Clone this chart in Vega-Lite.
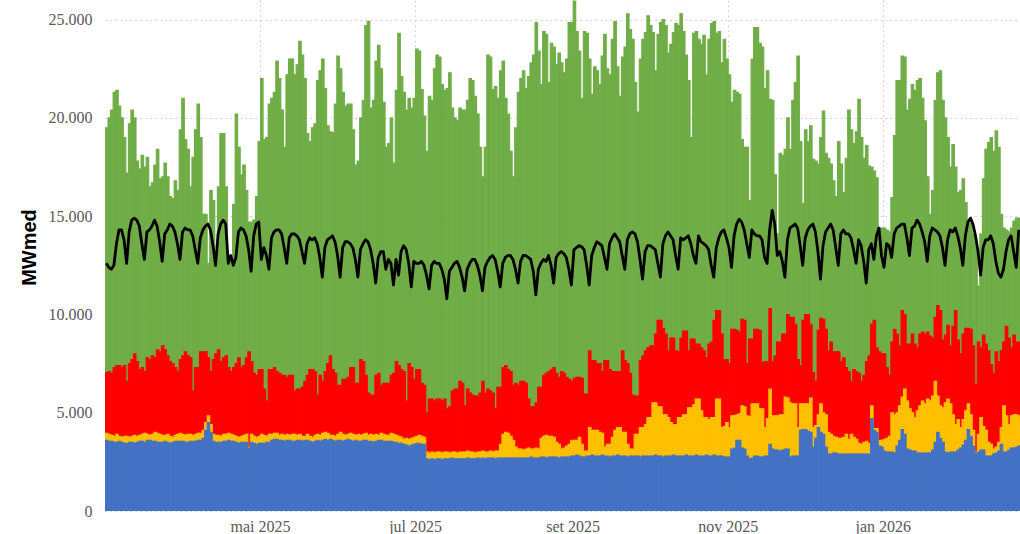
{
"$schema": "https://vega.github.io/schema/vega-lite/v6.json",
"description": "Geração diária empilhada (cada campo é o topo da faixa colorida) e carga (linha preta), MWmed.",
"width": 915, "height": 511,
"autosize": {"type": "none"},
"padding": {"left": 105, "top": 0, "right": 0, "bottom": 23},
"background": "#ffffff",
"config": {
  "view": {"stroke": null},
  "bar": {"binSpacing": 0, "strokeWidth": 1.1},
  "axis": {"domain": false, "ticks": false, "grid": true, "gridColor": "#c8c8c8", "gridDash": [1.5, 3.5], "gridWidth": 1, "labelFont": "Liberation Serif", "labelFontSize": 16, "labelColor": "#595959"}
},
"data": {"values": [
{"d":"2025-03-01","azul":3600,"amarelo":3950,"vermelho":7050,"verde":19500,"carga":12600},
{"d":"2025-03-02","azul":3550,"amarelo":3900,"vermelho":7100,"verde":20000,"carga":12400},
{"d":"2025-03-03","azul":3550,"amarelo":3850,"vermelho":7000,"verde":20400,"carga":12300},
{"d":"2025-03-04","azul":3500,"amarelo":3800,"vermelho":7300,"verde":21300,"carga":12500},
{"d":"2025-03-05","azul":3500,"amarelo":3900,"vermelho":7400,"verde":21400,"carga":13600},
{"d":"2025-03-06","azul":3550,"amarelo":3800,"vermelho":7400,"verde":20600,"carga":14300},
{"d":"2025-03-07","azul":3500,"amarelo":3750,"vermelho":7300,"verde":20000,"carga":14300},
{"d":"2025-03-08","azul":3450,"amarelo":3800,"vermelho":7400,"verde":19000,"carga":13800},
{"d":"2025-03-09","azul":3450,"amarelo":3800,"vermelho":6600,"verde":17200,"carga":12600},
{"d":"2025-03-10","azul":3500,"amarelo":3750,"vermelho":7500,"verde":19700,"carga":14200},
{"d":"2025-03-11","azul":3500,"amarelo":3800,"vermelho":7700,"verde":20400,"carga":14800},
{"d":"2025-03-12","azul":3450,"amarelo":3850,"vermelho":8000,"verde":20000,"carga":14900},
{"d":"2025-03-13","azul":3500,"amarelo":3800,"vermelho":7600,"verde":17800,"carga":14800},
{"d":"2025-03-14","azul":3550,"amarelo":3850,"vermelho":7200,"verde":17400,"carga":14500},
{"d":"2025-03-15","azul":3550,"amarelo":3900,"vermelho":7300,"verde":18100,"carga":13600},
{"d":"2025-03-16","azul":3500,"amarelo":3950,"vermelho":7100,"verde":17500,"carga":12800},
{"d":"2025-03-17","azul":3600,"amarelo":3900,"vermelho":7800,"verde":18000,"carga":14200},
{"d":"2025-03-18","azul":3600,"amarelo":3850,"vermelho":7700,"verde":16500,"carga":14300},
{"d":"2025-03-19","azul":3550,"amarelo":3900,"vermelho":7900,"verde":16700,"carga":14500},
{"d":"2025-03-20","azul":3550,"amarelo":4000,"vermelho":7800,"verde":17600,"carga":14800},
{"d":"2025-03-21","azul":3500,"amarelo":3950,"vermelho":8200,"verde":18400,"carga":14500},
{"d":"2025-03-22","azul":3500,"amarelo":3900,"vermelho":8100,"verde":16900,"carga":13700},
{"d":"2025-03-23","azul":3500,"amarelo":3850,"vermelho":8400,"verde":17000,"carga":12700},
{"d":"2025-03-24","azul":3550,"amarelo":3850,"vermelho":8200,"verde":17700,"carga":14100},
{"d":"2025-03-25","azul":3500,"amarelo":3900,"vermelho":7900,"verde":17000,"carga":14300},
{"d":"2025-03-26","azul":3450,"amarelo":3800,"vermelho":7600,"verde":16000,"carga":14600},
{"d":"2025-03-27","azul":3500,"amarelo":3750,"vermelho":7500,"verde":15900,"carga":14500},
{"d":"2025-03-28","azul":3550,"amarelo":3850,"vermelho":7300,"verde":16800,"carga":14200},
{"d":"2025-03-29","azul":3550,"amarelo":3900,"vermelho":7100,"verde":16300,"carga":13600},
{"d":"2025-03-30","azul":3550,"amarelo":3950,"vermelho":7700,"verde":19400,"carga":12800},
{"d":"2025-03-31","azul":3550,"amarelo":3900,"vermelho":7900,"verde":21000,"carga":14200},
{"d":"2025-04-01","azul":3500,"amarelo":3850,"vermelho":8100,"verde":18900,"carga":14400},
{"d":"2025-04-02","azul":3500,"amarelo":3900,"vermelho":7900,"verde":18400,"carga":14300},
{"d":"2025-04-03","azul":3550,"amarelo":3900,"vermelho":7800,"verde":16500,"carga":14300},
{"d":"2025-04-04","azul":3550,"amarelo":3850,"vermelho":6100,"verde":18000,"carga":14000},
{"d":"2025-04-05","azul":3550,"amarelo":3900,"vermelho":7300,"verde":19400,"carga":13300},
{"d":"2025-04-06","azul":3600,"amarelo":3950,"vermelho":7300,"verde":20700,"carga":12600},
{"d":"2025-04-07","azul":3600,"amarelo":3950,"vermelho":8100,"verde":19000,"carga":13900},
{"d":"2025-04-08","azul":3700,"amarelo":4100,"vermelho":8100,"verde":15100,"carga":14300},
{"d":"2025-04-09","azul":4100,"amarelo":4500,"vermelho":8100,"verde":15100,"carga":14500},
{"d":"2025-04-10","azul":4500,"amarelo":4850,"vermelho":7800,"verde":12600,"carga":14600},
{"d":"2025-04-11","azul":4000,"amarelo":4400,"vermelho":7100,"verde":16300,"carga":14300},
{"d":"2025-04-12","azul":3550,"amarelo":3900,"vermelho":7700,"verde":15800,"carga":13500},
{"d":"2025-04-13","azul":3500,"amarelo":3850,"vermelho":8000,"verde":12600,"carga":12500},
{"d":"2025-04-14","azul":3500,"amarelo":3850,"vermelho":8200,"verde":16500,"carga":14100},
{"d":"2025-04-15","azul":3500,"amarelo":3800,"vermelho":7600,"verde":19200,"carga":14600},
{"d":"2025-04-16","azul":3550,"amarelo":3900,"vermelho":7800,"verde":19200,"carga":14800},
{"d":"2025-04-17","azul":3550,"amarelo":3900,"vermelho":7900,"verde":16500,"carga":14600},
{"d":"2025-04-18","azul":3600,"amarelo":3950,"vermelho":7300,"verde":13000,"carga":12600},
{"d":"2025-04-19","azul":3550,"amarelo":3900,"vermelho":7100,"verde":13000,"carga":13000},
{"d":"2025-04-20","azul":3550,"amarelo":3850,"vermelho":7300,"verde":15600,"carga":12500},
{"d":"2025-04-21","azul":3500,"amarelo":3800,"vermelho":7500,"verde":20200,"carga":12900},
{"d":"2025-04-22","azul":3450,"amarelo":3750,"vermelho":7800,"verde":18500,"carga":14200},
{"d":"2025-04-23","azul":3500,"amarelo":3800,"vermelho":7300,"verde":17100,"carga":14400},
{"d":"2025-04-24","azul":3500,"amarelo":3850,"vermelho":7400,"verde":17600,"carga":14300},
{"d":"2025-04-25","azul":3500,"amarelo":3900,"vermelho":7800,"verde":16300,"carga":14000},
{"d":"2025-04-26","azul":3200,"amarelo":3250,"vermelho":8100,"verde":14700,"carga":13300},
{"d":"2025-04-27","azul":3500,"amarelo":3900,"vermelho":7600,"verde":14700,"carga":12200},
{"d":"2025-04-28","azul":3450,"amarelo":3800,"vermelho":7000,"verde":14800,"carga":14000},
{"d":"2025-04-29","azul":3400,"amarelo":3750,"vermelho":6900,"verde":16000,"carga":14600},
{"d":"2025-04-30","azul":3450,"amarelo":3800,"vermelho":7200,"verde":18800,"carga":14700},
{"d":"2025-05-01","azul":3450,"amarelo":3900,"vermelho":7200,"verde":22000,"carga":12800},
{"d":"2025-05-02","azul":3450,"amarelo":3850,"vermelho":6200,"verde":18900,"carga":13400},
{"d":"2025-05-03","azul":3500,"amarelo":3800,"vermelho":5600,"verde":19000,"carga":13000},
{"d":"2025-05-04","azul":3500,"amarelo":3900,"vermelho":7200,"verde":20700,"carga":12300},
{"d":"2025-05-05","azul":3600,"amarelo":3900,"vermelho":7200,"verde":21000,"carga":13900},
{"d":"2025-05-06","azul":3650,"amarelo":3950,"vermelho":7300,"verde":21300,"carga":14200},
{"d":"2025-05-07","azul":3650,"amarelo":3950,"vermelho":7100,"verde":22900,"carga":14300},
{"d":"2025-05-08","azul":3600,"amarelo":3850,"vermelho":7000,"verde":22000,"carga":14300},
{"d":"2025-05-09","azul":3600,"amarelo":3900,"vermelho":6900,"verde":20400,"carga":14100},
{"d":"2025-05-10","azul":3550,"amarelo":3850,"vermelho":6900,"verde":18500,"carga":13400},
{"d":"2025-05-11","azul":3600,"amarelo":3900,"vermelho":6800,"verde":22200,"carga":12600},
{"d":"2025-05-12","azul":3600,"amarelo":3850,"vermelho":6900,"verde":23000,"carga":13900},
{"d":"2025-05-13","azul":3550,"amarelo":3900,"vermelho":6900,"verde":23000,"carga":14100},
{"d":"2025-05-14","azul":3550,"amarelo":3900,"vermelho":6100,"verde":22200,"carga":14100},
{"d":"2025-05-15","azul":3600,"amarelo":3850,"vermelho":6200,"verde":22700,"carga":14000},
{"d":"2025-05-16","azul":3600,"amarelo":3900,"vermelho":6200,"verde":23900,"carga":13800},
{"d":"2025-05-17","azul":3550,"amarelo":3800,"vermelho":6300,"verde":23200,"carga":13200},
{"d":"2025-05-18","azul":3600,"amarelo":3800,"vermelho":6600,"verde":22000,"carga":12600},
{"d":"2025-05-19","azul":3600,"amarelo":3900,"vermelho":6900,"verde":19200,"carga":13600},
{"d":"2025-05-20","azul":3550,"amarelo":3800,"vermelho":7200,"verde":18800,"carga":13900},
{"d":"2025-05-21","azul":3500,"amarelo":3750,"vermelho":7200,"verde":19500,"carga":13800},
{"d":"2025-05-22","azul":3550,"amarelo":3850,"vermelho":7100,"verde":19700,"carga":13900},
{"d":"2025-05-23","azul":3600,"amarelo":3900,"vermelho":5900,"verde":21900,"carga":13600},
{"d":"2025-05-24","azul":3550,"amarelo":3850,"vermelho":6900,"verde":22400,"carga":12900},
{"d":"2025-05-25","azul":3600,"amarelo":3950,"vermelho":6600,"verde":23000,"carga":11900},
{"d":"2025-05-26","azul":3650,"amarelo":4000,"vermelho":7100,"verde":21500,"carga":13400},
{"d":"2025-05-27","azul":3600,"amarelo":3950,"vermelho":7500,"verde":19600,"carga":13800},
{"d":"2025-05-28","azul":3650,"amarelo":3850,"vermelho":7900,"verde":19300,"carga":13900},
{"d":"2025-05-29","azul":3600,"amarelo":3850,"vermelho":7200,"verde":19250,"carga":14000},
{"d":"2025-05-30","azul":3550,"amarelo":3800,"vermelho":7000,"verde":20700,"carga":13700},
{"d":"2025-05-31","azul":3600,"amarelo":3900,"vermelho":6400,"verde":23150,"carga":13000},
{"d":"2025-06-01","azul":3600,"amarelo":4000,"vermelho":6400,"verde":22500,"carga":11900},
{"d":"2025-06-02","azul":3550,"amarelo":3900,"vermelho":6700,"verde":21300,"carga":13400},
{"d":"2025-06-03","azul":3600,"amarelo":3850,"vermelho":6700,"verde":20600,"carga":13700},
{"d":"2025-06-04","azul":3650,"amarelo":3900,"vermelho":6800,"verde":20700,"carga":13700},
{"d":"2025-06-05","azul":3600,"amarelo":3950,"vermelho":7300,"verde":20700,"carga":13600},
{"d":"2025-06-06","azul":3550,"amarelo":3900,"vermelho":7300,"verde":19400,"carga":13400},
{"d":"2025-06-07","azul":3600,"amarelo":3850,"vermelho":6500,"verde":17600,"carga":12800},
{"d":"2025-06-08","azul":3550,"amarelo":3900,"vermelho":6500,"verde":17800,"carga":11900},
{"d":"2025-06-09","azul":3550,"amarelo":3850,"vermelho":7700,"verde":20000,"carga":13300},
{"d":"2025-06-10","azul":3600,"amarelo":3900,"vermelho":7600,"verde":20900,"carga":13600},
{"d":"2025-06-11","azul":3600,"amarelo":3950,"vermelho":6900,"verde":24700,"carga":13800},
{"d":"2025-06-12","azul":3550,"amarelo":3850,"vermelho":6000,"verde":24900,"carga":13700},
{"d":"2025-06-13","azul":3550,"amarelo":3900,"vermelho":5900,"verde":20500,"carga":13300},
{"d":"2025-06-14","azul":3500,"amarelo":3850,"vermelho":5900,"verde":20900,"carga":12600},
{"d":"2025-06-15","azul":3550,"amarelo":3900,"vermelho":6900,"verde":22900,"carga":11600},
{"d":"2025-06-16","azul":3600,"amarelo":3850,"vermelho":7000,"verde":23700,"carga":12900},
{"d":"2025-06-17","azul":3600,"amarelo":3950,"vermelho":6400,"verde":22500,"carga":13200},
{"d":"2025-06-18","azul":3550,"amarelo":3900,"vermelho":6500,"verde":20800,"carga":13200},
{"d":"2025-06-19","azul":3550,"amarelo":3850,"vermelho":6500,"verde":18500,"carga":12300},
{"d":"2025-06-20","azul":3550,"amarelo":3850,"vermelho":6500,"verde":18700,"carga":12800},
{"d":"2025-06-21","azul":3550,"amarelo":3950,"vermelho":6900,"verde":20000,"carga":12600},
{"d":"2025-06-22","azul":3500,"amarelo":3900,"vermelho":7000,"verde":17700,"carga":11500},
{"d":"2025-06-23","azul":3500,"amarelo":3850,"vermelho":7600,"verde":21400,"carga":12800},
{"d":"2025-06-24","azul":3450,"amarelo":3800,"vermelho":7400,"verde":24300,"carga":12000},
{"d":"2025-06-25","azul":3450,"amarelo":3750,"vermelho":7200,"verde":22100,"carga":13200},
{"d":"2025-06-26","azul":3400,"amarelo":3650,"vermelho":7100,"verde":21300,"carga":13500},
{"d":"2025-06-27","azul":3350,"amarelo":3700,"vermelho":5600,"verde":20400,"carga":13300},
{"d":"2025-06-28","azul":3300,"amarelo":3650,"vermelho":7500,"verde":21000,"carga":12600},
{"d":"2025-06-29","azul":3350,"amarelo":3700,"vermelho":7300,"verde":20500,"carga":11400},
{"d":"2025-06-30","azul":3400,"amarelo":3750,"vermelho":6700,"verde":21000,"carga":12700},
{"d":"2025-07-01","azul":3450,"amarelo":3800,"vermelho":7200,"verde":23500,"carga":12600},
{"d":"2025-07-02","azul":3450,"amarelo":3850,"vermelho":7200,"verde":23400,"carga":12600},
{"d":"2025-07-03","azul":3400,"amarelo":3800,"vermelho":6500,"verde":21450,"carga":12700},
{"d":"2025-07-04","azul":3400,"amarelo":3750,"vermelho":6400,"verde":20100,"carga":12500},
{"d":"2025-07-05","azul":2650,"amarelo":3000,"vermelho":5000,"verde":18300,"carga":12000},
{"d":"2025-07-06","azul":2600,"amarelo":2950,"vermelho":5700,"verde":21100,"carga":11300},
{"d":"2025-07-07","azul":2650,"amarelo":3000,"vermelho":5700,"verde":20900,"carga":12500},
{"d":"2025-07-08","azul":2600,"amarelo":2950,"vermelho":5600,"verde":22500,"carga":12700},
{"d":"2025-07-09","azul":2650,"amarelo":3000,"vermelho":5700,"verde":23200,"carga":12600},
{"d":"2025-07-10","azul":2650,"amarelo":3000,"vermelho":5700,"verde":23100,"carga":12600},
{"d":"2025-07-11","azul":2600,"amarelo":2950,"vermelho":5600,"verde":21700,"carga":12300},
{"d":"2025-07-12","azul":2650,"amarelo":3000,"vermelho":5700,"verde":21400,"carga":11800},
{"d":"2025-07-13","azul":2650,"amarelo":3000,"vermelho":5200,"verde":21500,"carga":10800},
{"d":"2025-07-14","azul":2650,"amarelo":2950,"vermelho":5300,"verde":22300,"carga":12200},
{"d":"2025-07-15","azul":2700,"amarelo":3000,"vermelho":6100,"verde":20500,"carga":12400},
{"d":"2025-07-16","azul":2650,"amarelo":3000,"vermelho":6200,"verde":20000,"carga":12600},
{"d":"2025-07-17","azul":2650,"amarelo":2950,"vermelho":6200,"verde":19850,"carga":12700},
{"d":"2025-07-18","azul":2650,"amarelo":3000,"vermelho":6600,"verde":20500,"carga":12400},
{"d":"2025-07-19","azul":2650,"amarelo":3000,"vermelho":6500,"verde":20400,"carga":11900},
{"d":"2025-07-20","azul":2650,"amarelo":3000,"vermelho":5350,"verde":20400,"carga":11200},
{"d":"2025-07-21","azul":2700,"amarelo":3050,"vermelho":6200,"verde":20900,"carga":12300},
{"d":"2025-07-22","azul":2650,"amarelo":3000,"vermelho":6000,"verde":22000,"carga":12600},
{"d":"2025-07-23","azul":2650,"amarelo":3000,"vermelho":5900,"verde":21900,"carga":12800},
{"d":"2025-07-24","azul":2650,"amarelo":2950,"vermelho":5850,"verde":21100,"carga":12800},
{"d":"2025-07-25","azul":2700,"amarelo":3000,"vermelho":5850,"verde":20200,"carga":12500},
{"d":"2025-07-26","azul":2650,"amarelo":3000,"vermelho":6000,"verde":18500,"carga":12000},
{"d":"2025-07-27","azul":2700,"amarelo":3050,"vermelho":6600,"verde":17000,"carga":11200},
{"d":"2025-07-28","azul":2650,"amarelo":3000,"vermelho":6000,"verde":18500,"carga":12400},
{"d":"2025-07-29","azul":2700,"amarelo":3000,"vermelho":6200,"verde":23200,"carga":12700},
{"d":"2025-07-30","azul":2700,"amarelo":3050,"vermelho":6100,"verde":23100,"carga":12900},
{"d":"2025-07-31","azul":2700,"amarelo":3000,"vermelho":6000,"verde":21450,"carga":13000},
{"d":"2025-08-01","azul":2650,"amarelo":3050,"vermelho":5200,"verde":21600,"carga":12800},
{"d":"2025-08-02","azul":2700,"amarelo":3050,"vermelho":6300,"verde":21000,"carga":12200},
{"d":"2025-08-03","azul":2700,"amarelo":3400,"vermelho":6300,"verde":22400,"carga":11400},
{"d":"2025-08-04","azul":2700,"amarelo":3900,"vermelho":7300,"verde":22900,"carga":12600},
{"d":"2025-08-05","azul":2700,"amarelo":4000,"vermelho":7400,"verde":21000,"carga":12900},
{"d":"2025-08-06","azul":2700,"amarelo":3950,"vermelho":7200,"verde":20200,"carga":13000},
{"d":"2025-08-07","azul":2700,"amarelo":3800,"vermelho":7100,"verde":18300,"carga":13000},
{"d":"2025-08-08","azul":2700,"amarelo":3600,"vermelho":6400,"verde":17000,"carga":12800},
{"d":"2025-08-09","azul":2700,"amarelo":3250,"vermelho":6500,"verde":19500,"carga":12300},
{"d":"2025-08-10","azul":2700,"amarelo":3150,"vermelho":6400,"verde":21300,"carga":11600},
{"d":"2025-08-11","azul":2700,"amarelo":3150,"vermelho":6600,"verde":22000,"carga":12700},
{"d":"2025-08-12","azul":2700,"amarelo":3100,"vermelho":6600,"verde":22400,"carga":13000},
{"d":"2025-08-13","azul":2700,"amarelo":3150,"vermelho":6500,"verde":21500,"carga":13000},
{"d":"2025-08-14","azul":2700,"amarelo":3200,"vermelho":5700,"verde":22100,"carga":12900},
{"d":"2025-08-15","azul":2750,"amarelo":3150,"vermelho":5300,"verde":22800,"carga":12800},
{"d":"2025-08-16","azul":2700,"amarelo":3150,"vermelho":5300,"verde":23200,"carga":12200},
{"d":"2025-08-17","azul":2700,"amarelo":3200,"vermelho":5500,"verde":24850,"carga":11000},
{"d":"2025-08-18","azul":2700,"amarelo":3150,"vermelho":6300,"verde":23400,"carga":12300},
{"d":"2025-08-19","azul":2750,"amarelo":3700,"vermelho":6300,"verde":21700,"carga":12600},
{"d":"2025-08-20","azul":2750,"amarelo":3800,"vermelho":6900,"verde":24400,"carga":12800},
{"d":"2025-08-21","azul":2700,"amarelo":3850,"vermelho":7000,"verde":24250,"carga":12700},
{"d":"2025-08-22","azul":2750,"amarelo":3800,"vermelho":7100,"verde":21800,"carga":13000},
{"d":"2025-08-23","azul":2750,"amarelo":3800,"vermelho":7200,"verde":23800,"carga":12500},
{"d":"2025-08-24","azul":2750,"amarelo":3750,"vermelho":7300,"verde":23600,"carga":11600},
{"d":"2025-08-25","azul":2750,"amarelo":3500,"vermelho":7000,"verde":22700,"carga":12900},
{"d":"2025-08-26","azul":2700,"amarelo":3400,"vermelho":6800,"verde":23300,"carga":13100},
{"d":"2025-08-27","azul":2750,"amarelo":3150,"vermelho":7100,"verde":22800,"carga":13200},
{"d":"2025-08-28","azul":2750,"amarelo":3200,"vermelho":7000,"verde":22300,"carga":13100},
{"d":"2025-08-29","azul":2750,"amarelo":3300,"vermelho":6800,"verde":23000,"carga":12900},
{"d":"2025-08-30","azul":2750,"amarelo":3400,"vermelho":6700,"verde":24850,"carga":12300},
{"d":"2025-08-31","azul":2800,"amarelo":3600,"vermelho":6600,"verde":24850,"carga":11500},
{"d":"2025-09-01","azul":2800,"amarelo":3600,"vermelho":6750,"verde":25950,"carga":13300},
{"d":"2025-09-02","azul":2850,"amarelo":3600,"vermelho":6800,"verde":24400,"carga":13400},
{"d":"2025-09-03","azul":2800,"amarelo":3750,"vermelho":6800,"verde":23400,"carga":13500},
{"d":"2025-09-04","azul":2750,"amarelo":3400,"vermelho":6750,"verde":21000,"carga":13450},
{"d":"2025-09-05","azul":2750,"amarelo":3050,"vermelho":5950,"verde":24400,"carga":13300},
{"d":"2025-09-06","azul":2800,"amarelo":3050,"vermelho":5950,"verde":24300,"carga":12500},
{"d":"2025-09-07","azul":2800,"amarelo":4250,"vermelho":8150,"verde":23000,"carga":11500},
{"d":"2025-09-08","azul":2850,"amarelo":4100,"vermelho":7650,"verde":21200,"carga":13000},
{"d":"2025-09-09","azul":2800,"amarelo":4100,"vermelho":7650,"verde":22600,"carga":13400},
{"d":"2025-09-10","azul":2800,"amarelo":4100,"vermelho":7500,"verde":22400,"carga":13700},
{"d":"2025-09-11","azul":2800,"amarelo":4000,"vermelho":7500,"verde":21700,"carga":13600},
{"d":"2025-09-12","azul":2850,"amarelo":3950,"vermelho":7100,"verde":23150,"carga":13500},
{"d":"2025-09-13","azul":2800,"amarelo":3250,"vermelho":7650,"verde":24250,"carga":12900},
{"d":"2025-09-14","azul":2800,"amarelo":3400,"vermelho":7650,"verde":22500,"carga":12300},
{"d":"2025-09-15","azul":2750,"amarelo":3400,"vermelho":7200,"verde":22200,"carga":13600},
{"d":"2025-09-16","azul":2800,"amarelo":3750,"vermelho":7100,"verde":24000,"carga":13900},
{"d":"2025-09-17","azul":2800,"amarelo":4100,"vermelho":7100,"verde":24900,"carga":14100},
{"d":"2025-09-18","azul":2850,"amarelo":4250,"vermelho":7100,"verde":22600,"carga":13900},
{"d":"2025-09-19","azul":2800,"amarelo":4250,"vermelho":7100,"verde":21100,"carga":13700},
{"d":"2025-09-20","azul":2800,"amarelo":4000,"vermelho":8150,"verde":23100,"carga":13000},
{"d":"2025-09-21","azul":2800,"amarelo":4000,"vermelho":7650,"verde":23600,"carga":12300},
{"d":"2025-09-22","azul":2750,"amarelo":3400,"vermelho":7500,"verde":25300,"carga":13800},
{"d":"2025-09-23","azul":2800,"amarelo":3150,"vermelho":7000,"verde":24500,"carga":14100},
{"d":"2025-09-24","azul":2800,"amarelo":3150,"vermelho":5900,"verde":24000,"carga":14200},
{"d":"2025-09-25","azul":2800,"amarelo":3900,"vermelho":5850,"verde":21800,"carga":14100},
{"d":"2025-09-26","azul":2800,"amarelo":3900,"vermelho":5850,"verde":20300,"carga":13700},
{"d":"2025-09-27","azul":2750,"amarelo":4250,"vermelho":7650,"verde":23000,"carga":12800},
{"d":"2025-09-28","azul":2800,"amarelo":4250,"vermelho":7900,"verde":24000,"carga":11800},
{"d":"2025-09-29","azul":2800,"amarelo":4400,"vermelho":8150,"verde":24350,"carga":13200},
{"d":"2025-09-30","azul":2800,"amarelo":4750,"vermelho":8300,"verde":25200,"carga":13500},
{"d":"2025-10-01","azul":2800,"amarelo":4750,"vermelho":8400,"verde":24700,"carga":13500},
{"d":"2025-10-02","azul":2800,"amarelo":5500,"vermelho":8400,"verde":24350,"carga":13400},
{"d":"2025-10-03","azul":2850,"amarelo":5500,"vermelho":9000,"verde":22400,"carga":13300},
{"d":"2025-10-04","azul":2800,"amarelo":5300,"vermelho":9700,"verde":24250,"carga":12600},
{"d":"2025-10-05","azul":2800,"amarelo":5300,"vermelho":9700,"verde":24850,"carga":11900},
{"d":"2025-10-06","azul":2750,"amarelo":4900,"vermelho":9300,"verde":25000,"carga":13600},
{"d":"2025-10-07","azul":2800,"amarelo":4900,"vermelho":9000,"verde":24700,"carga":14000},
{"d":"2025-10-08","azul":2800,"amarelo":4750,"vermelho":8150,"verde":23300,"carga":14200},
{"d":"2025-10-09","azul":2800,"amarelo":4500,"vermelho":8800,"verde":23750,"carga":14000},
{"d":"2025-10-10","azul":2850,"amarelo":4400,"vermelho":8800,"verde":24350,"carga":13800},
{"d":"2025-10-11","azul":2800,"amarelo":4400,"vermelho":8150,"verde":24800,"carga":13000},
{"d":"2025-10-12","azul":2800,"amarelo":4750,"vermelho":8100,"verde":24700,"carga":12300},
{"d":"2025-10-13","azul":2800,"amarelo":4750,"vermelho":8800,"verde":25300,"carga":13900},
{"d":"2025-10-14","azul":2800,"amarelo":4900,"vermelho":9150,"verde":24400,"carga":13800},
{"d":"2025-10-15","azul":2850,"amarelo":4900,"vermelho":9150,"verde":23200,"carga":13900},
{"d":"2025-10-16","azul":2800,"amarelo":5250,"vermelho":8150,"verde":21900,"carga":14000},
{"d":"2025-10-17","azul":2800,"amarelo":5250,"vermelho":8750,"verde":19000,"carga":13600},
{"d":"2025-10-18","azul":2800,"amarelo":5400,"vermelho":8750,"verde":24300,"carga":13000},
{"d":"2025-10-19","azul":2850,"amarelo":5700,"vermelho":8500,"verde":24400,"carga":12600},
{"d":"2025-10-20","azul":2800,"amarelo":5700,"vermelho":8500,"verde":24000,"carga":14000},
{"d":"2025-10-21","azul":2800,"amarelo":5100,"vermelho":8300,"verde":23750,"carga":13700},
{"d":"2025-10-22","azul":2800,"amarelo":4750,"vermelho":8150,"verde":24200,"carga":13600},
{"d":"2025-10-23","azul":2850,"amarelo":4750,"vermelho":7800,"verde":22200,"carga":13500},
{"d":"2025-10-24","azul":2800,"amarelo":4650,"vermelho":8500,"verde":24000,"carga":13300},
{"d":"2025-10-25","azul":2800,"amarelo":4750,"vermelho":8600,"verde":24800,"carga":12500},
{"d":"2025-10-26","azul":2850,"amarelo":4750,"vermelho":9700,"verde":24900,"carga":11900},
{"d":"2025-10-27","azul":2800,"amarelo":5700,"vermelho":10200,"verde":24300,"carga":13400},
{"d":"2025-10-28","azul":2800,"amarelo":5700,"vermelho":10200,"verde":24400,"carga":13900},
{"d":"2025-10-29","azul":2800,"amarelo":4250,"vermelho":9000,"verde":22800,"carga":14200},
{"d":"2025-10-30","azul":2750,"amarelo":4300,"vermelho":7700,"verde":24000,"carga":14300},
{"d":"2025-10-31","azul":2750,"amarelo":4500,"vermelho":7700,"verde":23000,"carga":13900},
{"d":"2025-11-01","azul":2750,"amarelo":4250,"vermelho":7500,"verde":22200,"carga":13400},
{"d":"2025-11-02","azul":3150,"amarelo":4850,"vermelho":9250,"verde":20800,"carga":12400},
{"d":"2025-11-03","azul":3200,"amarelo":4850,"vermelho":9250,"verde":21400,"carga":14000},
{"d":"2025-11-04","azul":3600,"amarelo":4900,"vermelho":9200,"verde":21300,"carga":14600},
{"d":"2025-11-05","azul":3600,"amarelo":4950,"vermelho":9100,"verde":21200,"carga":14850},
{"d":"2025-11-06","azul":3200,"amarelo":5350,"vermelho":9750,"verde":18900,"carga":14700},
{"d":"2025-11-07","azul":3150,"amarelo":5300,"vermelho":9700,"verde":18500,"carga":14300},
{"d":"2025-11-08","azul":2800,"amarelo":4850,"vermelho":7500,"verde":18500,"carga":13600},
{"d":"2025-11-09","azul":2650,"amarelo":4800,"vermelho":8750,"verde":15800,"carga":12900},
{"d":"2025-11-10","azul":2700,"amarelo":5450,"vermelho":8750,"verde":23000,"carga":14300},
{"d":"2025-11-11","azul":2800,"amarelo":5450,"vermelho":9250,"verde":24600,"carga":14100},
{"d":"2025-11-12","azul":2800,"amarelo":5450,"vermelho":9250,"verde":24600,"carga":14000},
{"d":"2025-11-13","azul":2750,"amarelo":5200,"vermelho":9200,"verde":23800,"carga":14000},
{"d":"2025-11-14","azul":2750,"amarelo":5200,"vermelho":7550,"verde":23600,"carga":13800},
{"d":"2025-11-15","azul":2800,"amarelo":4250,"vermelho":7600,"verde":21500,"carga":12900},
{"d":"2025-11-16","azul":2800,"amarelo":4700,"vermelho":7600,"verde":22400,"carga":12600},
{"d":"2025-11-17","azul":3400,"amarelo":6200,"vermelho":10300,"verde":20950,"carga":14300},
{"d":"2025-11-18","azul":3150,"amarelo":4850,"vermelho":7600,"verde":20900,"carga":15300},
{"d":"2025-11-19","azul":3100,"amarelo":4850,"vermelho":7900,"verde":17100,"carga":14600},
{"d":"2025-11-20","azul":3100,"amarelo":4850,"vermelho":8600,"verde":14100,"carga":13000},
{"d":"2025-11-21","azul":3050,"amarelo":4900,"vermelho":8600,"verde":18200,"carga":13200},
{"d":"2025-11-22","azul":3100,"amarelo":4900,"vermelho":9000,"verde":18100,"carga":12700},
{"d":"2025-11-23","azul":3150,"amarelo":5800,"vermelho":9000,"verde":18400,"carga":11900},
{"d":"2025-11-24","azul":3150,"amarelo":5750,"vermelho":10000,"verde":20000,"carga":13800},
{"d":"2025-11-25","azul":2750,"amarelo":5500,"vermelho":9850,"verde":18400,"carga":14400},
{"d":"2025-11-26","azul":2800,"amarelo":5450,"vermelho":9850,"verde":20900,"carga":14500},
{"d":"2025-11-27","azul":2800,"amarelo":5450,"vermelho":9500,"verde":21800,"carga":14600},
{"d":"2025-11-28","azul":2800,"amarelo":4250,"vermelho":7700,"verde":23150,"carga":14400},
{"d":"2025-11-29","azul":4100,"amarelo":5450,"vermelho":7400,"verde":18800,"carga":13500},
{"d":"2025-11-30","azul":4150,"amarelo":5450,"vermelho":9700,"verde":15650,"carga":12500},
{"d":"2025-12-01","azul":4150,"amarelo":5450,"vermelho":10000,"verde":19400,"carga":13900},
{"d":"2025-12-02","azul":4050,"amarelo":5450,"vermelho":10000,"verde":18800,"carga":14300},
{"d":"2025-12-03","azul":4000,"amarelo":5750,"vermelho":9500,"verde":19600,"carga":14500},
{"d":"2025-12-04","azul":3250,"amarelo":4250,"vermelho":7050,"verde":17900,"carga":14600},
{"d":"2025-12-05","azul":3700,"amarelo":4350,"vermelho":6600,"verde":17800,"carga":14200},
{"d":"2025-12-06","azul":4250,"amarelo":4900,"vermelho":9200,"verde":17650,"carga":13200},
{"d":"2025-12-07","azul":4000,"amarelo":5450,"vermelho":9800,"verde":19000,"carga":11800},
{"d":"2025-12-08","azul":3900,"amarelo":5000,"vermelho":9750,"verde":20350,"carga":13500},
{"d":"2025-12-09","azul":3250,"amarelo":4900,"vermelho":9250,"verde":18200,"carga":14200},
{"d":"2025-12-10","azul":2900,"amarelo":4000,"vermelho":8150,"verde":17950,"carga":14400},
{"d":"2025-12-11","azul":2900,"amarelo":3900,"vermelho":8600,"verde":17650,"carga":14600},
{"d":"2025-12-12","azul":2950,"amarelo":3800,"vermelho":8100,"verde":16800,"carga":14300},
{"d":"2025-12-13","azul":2950,"amarelo":3750,"vermelho":8100,"verde":16000,"carga":13400},
{"d":"2025-12-14","azul":2900,"amarelo":3700,"vermelho":8100,"verde":18800,"carga":12500},
{"d":"2025-12-15","azul":2900,"amarelo":3700,"vermelho":7600,"verde":17650,"carga":14100},
{"d":"2025-12-16","azul":2900,"amarelo":3750,"vermelho":7800,"verde":16200,"carga":14300},
{"d":"2025-12-17","azul":2900,"amarelo":3900,"vermelho":7300,"verde":17950,"carga":14100},
{"d":"2025-12-18","azul":2900,"amarelo":3650,"vermelho":7100,"verde":20400,"carga":14100},
{"d":"2025-12-19","azul":2900,"amarelo":3900,"vermelho":6600,"verde":19400,"carga":13900},
{"d":"2025-12-20","azul":2900,"amarelo":3750,"vermelho":7200,"verde":18700,"carga":13300},
{"d":"2025-12-21","azul":2900,"amarelo":3650,"vermelho":7100,"verde":19300,"carga":12600},
{"d":"2025-12-22","azul":2900,"amarelo":3450,"vermelho":7000,"verde":20950,"carga":13800},
{"d":"2025-12-23","azul":2900,"amarelo":3400,"vermelho":6600,"verde":19000,"carga":13500},
{"d":"2025-12-24","azul":2900,"amarelo":3500,"vermelho":6900,"verde":17950,"carga":12700},
{"d":"2025-12-25","azul":2900,"amarelo":3550,"vermelho":7600,"verde":18600,"carga":11600},
{"d":"2025-12-26","azul":2900,"amarelo":3450,"vermelho":7900,"verde":17550,"carga":13300},
{"d":"2025-12-27","azul":4700,"amarelo":5350,"vermelho":9500,"verde":17500,"carga":13600},
{"d":"2025-12-28","azul":4100,"amarelo":4200,"vermelho":9700,"verde":17300,"carga":12800},
{"d":"2025-12-29","azul":4000,"amarelo":4200,"vermelho":8300,"verde":16950,"carga":14000},
{"d":"2025-12-30","azul":3300,"amarelo":3600,"vermelho":8100,"verde":14400,"carga":14400},
{"d":"2025-12-31","azul":3250,"amarelo":3600,"vermelho":8000,"verde":14400,"carga":13000},
{"d":"2026-01-01","azul":3050,"amarelo":3650,"vermelho":8000,"verde":14400,"carga":12400},
{"d":"2026-01-02","azul":3000,"amarelo":3700,"vermelho":7300,"verde":14300,"carga":13600},
{"d":"2026-01-03","azul":3000,"amarelo":3800,"vermelho":6900,"verde":14200,"carga":13500},
{"d":"2026-01-04","azul":3000,"amarelo":5000,"vermelho":8600,"verde":15950,"carga":12900},
{"d":"2026-01-05","azul":2950,"amarelo":4900,"vermelho":9250,"verde":19100,"carga":14100},
{"d":"2026-01-06","azul":3300,"amarelo":5000,"vermelho":9000,"verde":21900,"carga":14400},
{"d":"2026-01-07","azul":3600,"amarelo":5350,"vermelho":8400,"verde":21900,"carga":14500},
{"d":"2026-01-08","azul":4150,"amarelo":5800,"vermelho":10200,"verde":23150,"carga":14600},
{"d":"2026-01-09","azul":3900,"amarelo":6200,"vermelho":10000,"verde":23100,"carga":14600},
{"d":"2026-01-10","azul":3150,"amarelo":5600,"vermelho":8500,"verde":20400,"carga":13900},
{"d":"2026-01-11","azul":3100,"amarelo":5200,"vermelho":8500,"verde":20950,"carga":13000},
{"d":"2026-01-12","azul":3050,"amarelo":5000,"vermelho":9000,"verde":21700,"carga":14400},
{"d":"2026-01-13","azul":3050,"amarelo":4750,"vermelho":8500,"verde":21400,"carga":14500},
{"d":"2026-01-14","azul":2950,"amarelo":5100,"vermelho":8300,"verde":21900,"carga":14800},
{"d":"2026-01-15","azul":2950,"amarelo":5350,"vermelho":9000,"verde":22000,"carga":14600},
{"d":"2026-01-16","azul":2950,"amarelo":5600,"vermelho":9100,"verde":21000,"carga":14200},
{"d":"2026-01-17","azul":2950,"amarelo":5450,"vermelho":9000,"verde":19850,"carga":13700},
{"d":"2026-01-18","azul":2950,"amarelo":5700,"vermelho":9100,"verde":17000,"carga":12700},
{"d":"2026-01-19","azul":2950,"amarelo":5600,"vermelho":8900,"verde":15100,"carga":14000},
{"d":"2026-01-20","azul":3100,"amarelo":5850,"vermelho":8800,"verde":16300,"carga":14400},
{"d":"2026-01-21","azul":3500,"amarelo":6600,"vermelho":9850,"verde":20900,"carga":14300},
{"d":"2026-01-22","azul":4000,"amarelo":5850,"vermelho":10450,"verde":22300,"carga":14200},
{"d":"2026-01-23","azul":3700,"amarelo":5350,"vermelho":10200,"verde":22400,"carga":14000},
{"d":"2026-01-24","azul":3500,"amarelo":5250,"vermelho":8700,"verde":20900,"carga":13400},
{"d":"2026-01-25","azul":3000,"amarelo":5500,"vermelho":8950,"verde":20000,"carga":12500},
{"d":"2026-01-26","azul":2950,"amarelo":5700,"vermelho":9450,"verde":19000,"carga":13800},
{"d":"2026-01-27","azul":3000,"amarelo":5450,"vermelho":8400,"verde":17500,"carga":14300},
{"d":"2026-01-28","azul":3000,"amarelo":4900,"vermelho":9400,"verde":18650,"carga":14200},
{"d":"2026-01-29","azul":3000,"amarelo":4400,"vermelho":10200,"verde":17500,"carga":14400},
{"d":"2026-01-30","azul":3100,"amarelo":4650,"vermelho":8700,"verde":16200,"carga":14000},
{"d":"2026-01-31","azul":3200,"amarelo":4250,"vermelho":8000,"verde":16300,"carga":13400},
{"d":"2026-02-01","azul":3350,"amarelo":4650,"vermelho":9000,"verde":16900,"carga":12500},
{"d":"2026-02-02","azul":3600,"amarelo":5100,"vermelho":9300,"verde":15700,"carga":14000},
{"d":"2026-02-03","azul":4150,"amarelo":5450,"vermelho":9300,"verde":14800,"carga":14700},
{"d":"2026-02-04","azul":3800,"amarelo":4900,"vermelho":9250,"verde":14800,"carga":14900},
{"d":"2026-02-05","azul":3300,"amarelo":4100,"vermelho":8400,"verde":14100,"carga":14600},
{"d":"2026-02-06","azul":2950,"amarelo":3000,"vermelho":6450,"verde":13700,"carga":14000},
{"d":"2026-02-07","azul":3000,"amarelo":3900,"vermelho":8600,"verde":11450,"carga":13200},
{"d":"2026-02-08","azul":3100,"amarelo":4750,"vermelho":8300,"verde":14100,"carga":12000},
{"d":"2026-02-09","azul":3100,"amarelo":4300,"vermelho":8950,"verde":16900,"carga":13400},
{"d":"2026-02-10","azul":2800,"amarelo":4100,"vermelho":8500,"verde":18400,"carga":13800},
{"d":"2026-02-11","azul":2800,"amarelo":3500,"vermelho":8150,"verde":18750,"carga":13800},
{"d":"2026-02-12","azul":2800,"amarelo":3400,"vermelho":7450,"verde":19000,"carga":14000},
{"d":"2026-02-13","azul":2900,"amarelo":3150,"vermelho":7000,"verde":18300,"carga":13600},
{"d":"2026-02-14","azul":2950,"amarelo":3250,"vermelho":8100,"verde":19350,"carga":12700},
{"d":"2026-02-15","azul":3050,"amarelo":3500,"vermelho":7600,"verde":18500,"carga":12100},
{"d":"2026-02-16","azul":3400,"amarelo":4250,"vermelho":8150,"verde":15100,"carga":11900},
{"d":"2026-02-17","azul":3000,"amarelo":5350,"vermelho":8600,"verde":14400,"carga":12300},
{"d":"2026-02-18","azul":3000,"amarelo":4850,"vermelho":9400,"verde":14300,"carga":13200},
{"d":"2026-02-19","azul":3100,"amarelo":4400,"vermelho":8800,"verde":14200,"carga":13800},
{"d":"2026-02-20","azul":3200,"amarelo":4850,"vermelho":8300,"verde":14400,"carga":14000},
{"d":"2026-02-21","azul":3200,"amarelo":4900,"vermelho":8950,"verde":14750,"carga":13200},
{"d":"2026-02-22","azul":3250,"amarelo":4900,"vermelho":8600,"verde":14900,"carga":12400},
{"d":"2026-02-23","azul":3300,"amarelo":4850,"vermelho":8600,"verde":14900,"carga":14300}
]},
"encoding": {
  "x": {"field": "d", "type": "temporal", "timeUnit": "utcyearmonthdate", "title": null,
    "scale": {"type": "utc", "domain": [{"year": 2025, "month": 3, "date": 1, "utc": true}, {"year": 2026, "month": 2, "date": 24, "utc": true}]},
    "axis": {"values": [{"year": 2025, "month": 5, "date": 1, "utc": true}, {"year": 2025, "month": 7, "date": 1, "utc": true}, {"year": 2025, "month": 9, "date": 1, "utc": true}, {"year": 2025, "month": 11, "date": 1, "utc": true}, {"year": 2026, "month": 1, "date": 1, "utc": true}],
      "labelExpr": "['jan','fev','mar','abr','mai','jun','jul','ago','set','out','nov','dez'][utcmonth(datum.value)] + ' ' + utcyear(datum.value)",
      "labelPadding": 7, "labelAlign": "center"}}
},
"layer": [
  {"mark": {"type": "bar", "color": "#70AD47", "stroke": "#70AD47", "clip": true},
   "encoding": {"y": {"field": "verde", "type": "quantitative", "title": "MWmed",
     "scale": {"domain": [0, 26000], "nice": false},
     "axis": {"values": [0, 5000, 10000, 15000, 20000, 25000], "labelExpr": "replace(format(datum.value, ','), ',', '.')", "labelPadding": 13,
       "titleFont": "Liberation Sans", "titleFontSize": 20, "titleFontWeight": "bold", "titleColor": "#000000", "titleX": -66, "titleY": 247}}}},
  {"mark": {"type": "bar", "color": "#FF0000", "stroke": "#FF0000", "clip": true},
   "encoding": {"y": {"field": "vermelho", "type": "quantitative", "title": "MWmed"}}},
  {"mark": {"type": "bar", "color": "#FFC000", "stroke": "#FFC000", "clip": true},
   "encoding": {"y": {"field": "amarelo", "type": "quantitative", "title": "MWmed"}}},
  {"mark": {"type": "bar", "color": "#4472C4", "stroke": "#4472C4", "clip": true},
   "encoding": {"y": {"field": "azul", "type": "quantitative", "title": "MWmed"}}},
  {"mark": {"type": "line", "color": "#000000", "strokeWidth": 2.8, "strokeJoin": "round", "clip": true},
   "encoding": {
     "x": {"field": "d", "type": "temporal", "timeUnit": "utcyearmonthdate", "bandPosition": 0.5},
     "y": {"field": "carga", "type": "quantitative", "title": "MWmed"}}}
]
}
